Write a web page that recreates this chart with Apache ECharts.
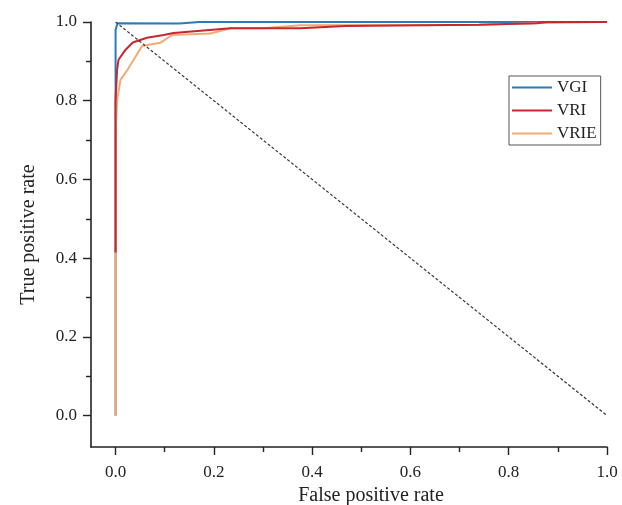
<!DOCTYPE html>
<html>
<head>
<meta charset="utf-8">
<script src="https://cdn.jsdelivr.net/npm/echarts@6/dist/echarts.min.js"></script>
<style>
  html, body { margin: 0; padding: 0; background: #fff; }
  #roc { width: 622px; height: 505px; }
</style>
</head>
<body>
<div id="roc"></div>
<script>
// ROC curves, [fpr, tpr]
var vgi = [[0, 0], [0, 0.98], [0.004, 0.997], [0.13, 0.996], [0.17, 1.0], [1, 1]]
var vri = [[0, 0.414], [0, 0.8], [0.003, 0.878], [0.006, 0.904], [0.02, 0.929], [0.035, 0.948],
  [0.064, 0.96], [0.098, 0.967], [0.118, 0.972], [0.173, 0.978], [0.234, 0.984], [0.376, 0.984],
  [0.467, 0.99], [0.74, 0.993], [0.857, 0.997], [0.878, 1.0], [1, 1]]
var vrie = [[0, 0], [0, 0.72], [0.003, 0.8], [0.01, 0.853], [0.024, 0.878], [0.054, 0.939],
  [0.091, 0.947], [0.115, 0.967], [0.193, 0.971], [0.234, 0.984], [0.3, 0.984], [0.376, 0.992],
  [0.74, 0.993], [0.85, 0.997], [0.996, 1.0], [1, 1]]
var chance = [[0, 1], [1, 0]]
var majorTicks = [0, 0.2, 0.4, 0.6, 0.8, 1.0]
var minorTicks = [0.1, 0.3, 0.5, 0.7, 0.9]
var seriesNames = ['VGI', 'VRI', 'VRIE']

var font = 'Liberation Serif'
var ink = '#222'

function mainAxis (name, min, gap, labelMargin, namePad) {
  return {
    type: 'value',
    min: min,
    max: 1,
    name: name,
    nameLocation: 'middle',
    nameGap: gap,
    nameTextStyle: { fontFamily: font, fontSize: 20, color: ink, padding: namePad },
    axisLine: { show: true, onZero: false, lineStyle: { color: ink, width: 1.6 } },
    axisTick: { show: true, customValues: majorTicks, length: 8, lineStyle: { color: ink, width: 1.4 } },
    axisLabel: {
      customValues: majorTicks,
      margin: labelMargin,
      fontFamily: font,
      fontSize: 17,
      color: ink,
      formatter: function (v) { return v.toFixed(1) }
    },
    splitLine: { show: false }
  }
}
function minorAxis (min, pos) {
  return {
    type: 'value',
    min: min,
    max: 1,
    position: pos,
    axisLine: { show: false, onZero: false },
    axisTick: { show: true, customValues: minorTicks, length: 5, lineStyle: { color: ink, width: 1.4 } },
    axisLabel: { show: false },
    splitLine: { show: false }
  }
}

var chart = echarts.init(document.getElementById('roc'))
chart.setOption({
  backgroundColor: '#fff',
  animation: false,
  grid: { left: 91, right: 15, top: 22, bottom: 58, outerBoundsMode: 'none', containLabel: false },
  legend: {
    data: seriesNames,
    orient: 'vertical',
    left: 509,
    top: 76,
    padding: [3, 4, 3, 3],
    icon: 'rect',
    itemWidth: 40,
    itemHeight: 2,
    itemGap: 6,
    borderColor: '#555',
    borderWidth: 1,
    textStyle: { fontFamily: font, fontSize: 17, color: ink, lineHeight: 16 }
  },
  xAxis: [mainAxis('False positive rate', -0.05, 38, 17, [0, 0, 0, 44]), minorAxis(-0.05, 'bottom')],
  yAxis: [mainAxis('True positive rate', -0.08, 52, 14, [0, 0, 0, 0]), minorAxis(-0.08, 'left')],
  series: [
    { name: 'VGI', type: 'line', data: vgi, symbol: 'none', z: 2, lineStyle: { color: '#2b7bba', width: 2 }, itemStyle: { color: '#2b7bba' } },
    { name: 'VRIE', type: 'line', data: vrie, symbol: 'none', z: 3, lineStyle: { color: '#f2aa73', width: 2 }, itemStyle: { color: '#f2aa73' } },
    { name: 'VRI', type: 'line', data: vri, symbol: 'none', z: 4, lineStyle: { color: '#c5282f', width: 2 }, itemStyle: { color: '#c5282f' } },
    { name: 'chance', type: 'line', data: chance, symbol: 'none', z: 5, silent: true, lineStyle: { color: '#333', width: 1.2, type: [3, 2] } }
  ]
})
</script>
</body>
</html>
